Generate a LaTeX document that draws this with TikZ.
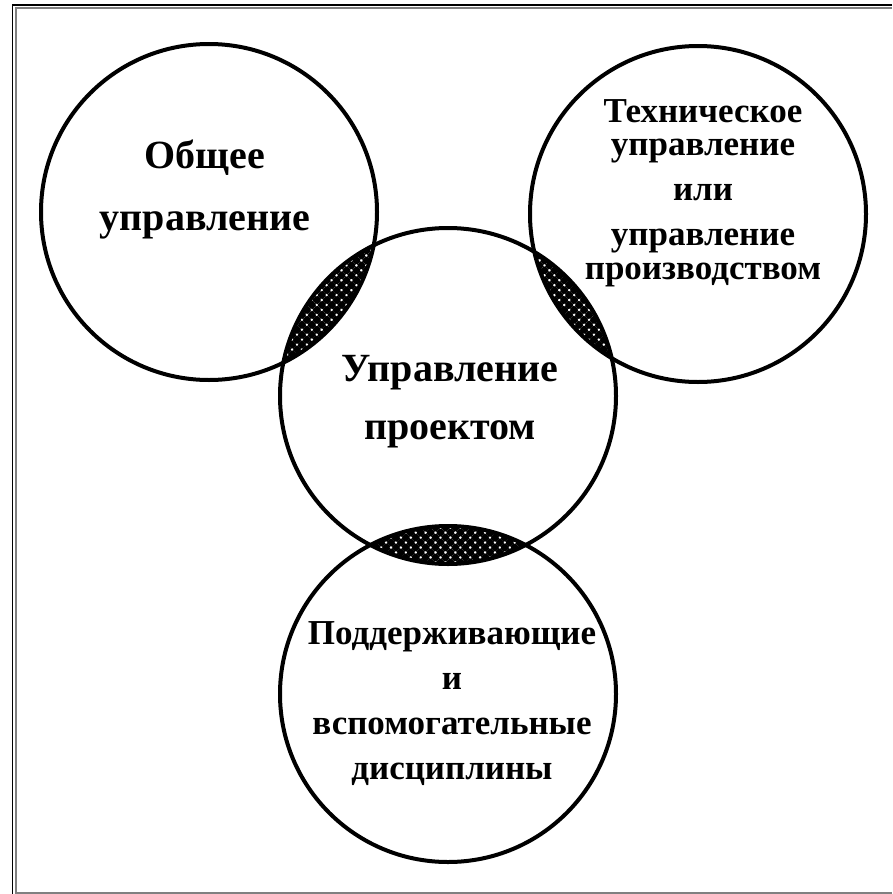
\documentclass[tikz,border=0pt]{standalone}
\usepackage{fontspec}
\setmainfont{Liberation Serif}
\usetikzlibrary{patterns.meta, positioning, backgrounds}

\begin{document}
\begin{tikzpicture}[x=1pt,y=-1pt]
    \tikzstyle{disc}=[shape=circle,draw,line width=4pt,minimum size=336pt,inner sep=0pt]
    \tikzstyle{big}=[align=center,font=\fontsize{40}{62}\selectfont\bfseries]
    \tikzstyle{small}=[align=center,font=\fontsize{35}{45}\selectfont\bfseries]
    \tikzstyle{overlap}=[pattern={Hatch[angle=45,distance=7pt,line width=4.8pt]}]

    \useasboundingbox (0,0) rectangle (892,894);
    % frame
    \draw[line width=1.5pt] (892,5) -- (12.5,5) -- (12.5,894);
    \draw[gray, line width=2pt] (892,8) -- (15.5,8) -- (15.5,893) -- (892,893);

    \node[disc] (proj) at (448,396) {};
    \node[disc] (gen) at (209,212) {};
    \node[disc] (tech) at (698,214) {};
    \node[disc] (supp) at (448,694) {};

    \begin{scope}[on background layer]
      \clip (proj.center) circle[radius=168];
      \fill[overlap] (gen.center) circle[radius=168];
      \fill[overlap] (tech.center) circle[radius=168];
      \fill[overlap] (supp.center) circle[radius=168];
    \end{scope}

    \node[big] (genT) at (205,189) {Общее\\управление};
    \node[big] (projT) at (450,402) {Управление\\[-4pt]проектом};
    \node[small] (techT) at (703,193) {Техническое\\[-12pt]управление\\или\\управление\\[-11pt]производством};
    \node[small] (suppT) at (452,704) {Поддерживающие\\и\\вспомогательные\\дисциплины};
\end{tikzpicture}
\end{document}
